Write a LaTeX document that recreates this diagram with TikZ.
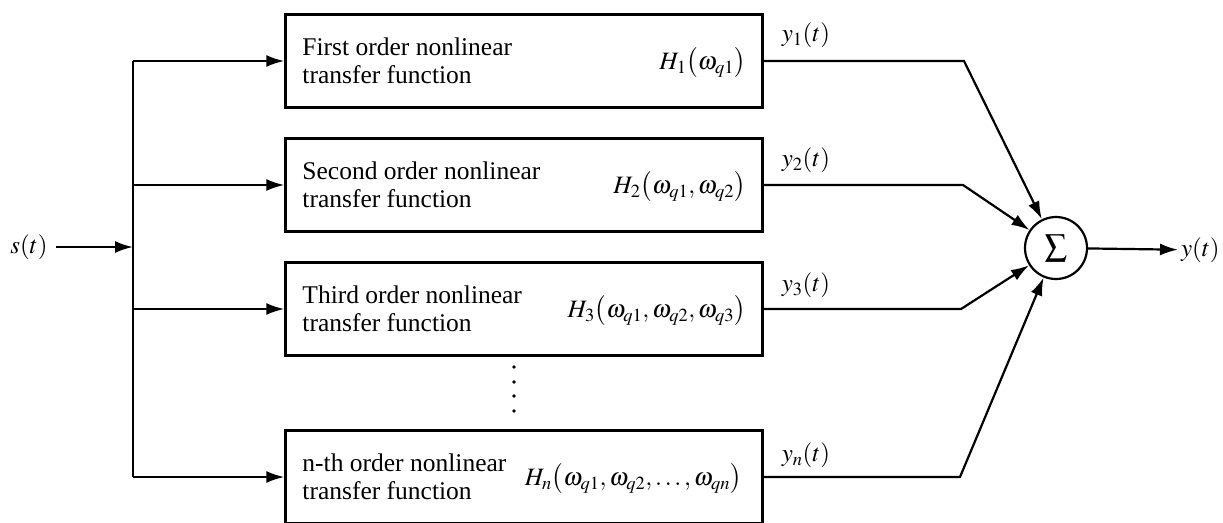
\documentclass[tikz,border=0pt]{standalone}
\usepackage{mathptmx}
\usepackage[no-math]{fontspec}
\setmainfont{Liberation Serif}
\usetikzlibrary{arrows.meta}
\begin{document}
\begin{tikzpicture}[x=1pt,y=-1pt, line width=2.2pt,
  arr/.style={-{Latex[length=18pt,width=12pt]}},
  blk/.style={draw, line width=2.3pt, minimum width=477pt, minimum height=93pt, inner sep=0pt},
  lbl/.style={font=\fontsize{25.5}{28}\selectfont, align=left, anchor=west, inner sep=0pt},
  fn/.style={font=\fontsize{25}{28}\selectfont, anchor=east, inner sep=0pt},
  sig/.style={font=\fontsize{25}{28}\selectfont, inner sep=0pt}]
\useasboundingbox (0,0) rectangle (1223,522);
% boxes
\node[blk] (b1) at (524,61) {};
\node[blk] (b2) at (524,185) {};
\node[blk] (b3) at (524,309) {};
\node[blk] (b4) at (524,477) {};
% box texts
\node[lbl] (t1) at ([xshift=17pt]b1.west) {First order nonlinear\\transfer function};
\node[lbl] (t2) at ([xshift=17pt]b2.west) {Second order nonlinear\\transfer function};
\node[lbl] (t3) at ([xshift=17pt]b3.west) {Third order nonlinear\\transfer function};
\node[lbl] (t4) at ([xshift=17pt]b4.west) {n-th order nonlinear\\transfer function};
\node[fn] (h1) at ([xshift=-17pt,yshift=-2pt]b1.east) {$H_1\mathopen{}\left(\omega_{q1}\right)$};
\node[fn] (h2) at ([xshift=-17pt,yshift=-2pt]b2.east) {$H_2\mathopen{}\left(\omega_{q1},\omega_{q2}\right)$};
\node[fn] (h3) at ([xshift=-17pt,yshift=-2pt]b3.east) {$H_3\mathopen{}\left(\omega_{q1},\omega_{q2},\omega_{q3}\right)$};
\node[fn] (h4) at ([xshift=-21pt,yshift=-2pt]b4.east) {$H_n\mathopen{}\left(\omega_{q1},\omega_{q2},\ldots,\omega_{qn}\right)$};
% dots
\fill (514,367) circle (1.8pt);
\fill (514,382) circle (1.8pt);
\fill (514,396) circle (1.8pt);
\fill (514,411) circle (1.8pt);
% input
\node[sig, inner sep=7pt] (s) at (29,247) {$s(t)$};
\coordinate (js) at (133,247);
\coordinate (j1) at (133,61);
\coordinate (j2) at (133,185);
\coordinate (j3) at (133,309);
\coordinate (j4) at (133,477);
\draw[arr] (s) -- (js);
\draw (j1) -- (j4);
\draw[arr] (j1) -- (b1.west);
\draw[arr] (j2) -- (b2.west);
\draw[arr] (j3) -- (b3.west);
\draw[arr] (j4) -- (b4.west);
% summation
\node[draw, circle, minimum size=62pt, inner sep=0pt, line width=2.2pt,
      font=\fontsize{22}{22}\selectfont] (sum) at (1056,248) {$\displaystyle\sum$};
\coordinate (k1) at (964,61);
\coordinate (k2) at (963,185);
\coordinate (k3) at (961,309);
\coordinate (k4) at (960,477);
\draw[arr] (b1.east) -- (k1) -- (sum);
\draw[arr] (b2.east) -- (k2) -- (sum);
\draw[arr] (b3.east) -- (k3) -- (sum);
\draw[arr] (b4.east) -- (k4) -- (sum);
\node[sig] (y1) at (806,35) {$y_1(t)$};
\node[sig] (y2) at (806,160) {$y_2(t)$};
\node[sig] (y3) at (806,285) {$y_3(t)$};
\node[sig] (yn) at (806,455) {$y_n(t)$};
% output
\node[sig, anchor=west, inner sep=2pt] (y) at (1178,250) {$y(t)$};
\draw[arr] (sum) -- (y);
\end{tikzpicture}
\end{document}
